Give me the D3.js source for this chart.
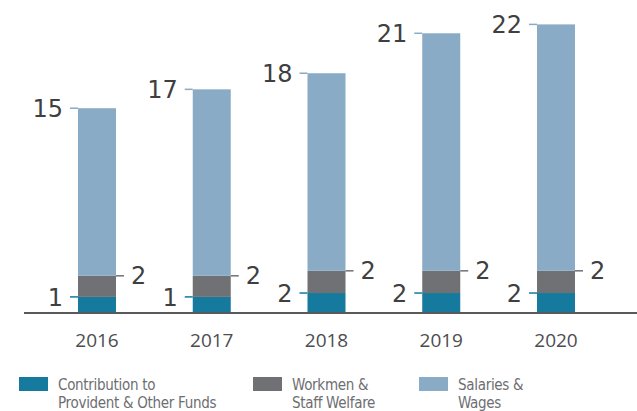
<!DOCTYPE html>
<html>
<head>
<meta charset="utf-8">
<script src="https://cdn.jsdelivr.net/npm/d3@7"></script>
<style>
  body { margin: 0; background: #fff; }
  svg { display: block; }
</style>
</head>
<body>
<svg id="chart"></svg>
<script>
// data (Rs. crore)
var years = ["2016", "2017", "2018", "2019", "2020"];
var contribution = [1.45, 1.45, 1.8, 1.8, 1.8];
var welfare = [1.9, 1.9, 2.0, 2.0, 2.0];
var salaries = [15.1, 16.8, 17.8, 21.4, 22.2];
var seriesNames = ["Contribution to|Provident & Other Funds", "Workmen &|Staff Welfare", "Salaries &|Wages"];
var seriesColors = ["#157a9e", "#707175", "#8aabc5"];

function drawChart(width, height) {
  var svg = d3.select("#chart")
    .attr("width", width)
    .attr("height", height);

  var baseline = 313;
  var barWidth = 38;

  // stack the three series per year
  var rows = years.map((y, i) => ({
    year: y,
    contribution: contribution[i],
    welfare: welfare[i],
    salaries: salaries[i]
  }));
  var stack = d3.stack().keys(["contribution", "welfare", "salaries"]);
  var layers = stack(rows);

  var x = d3.scalePoint()
    .domain(years)
    .range([97, 556]);

  var y = d3.scaleLinear()
    .domain([0, 26])
    .range([baseline, baseline - 26 * 11.1]);

  // bars
  var groups = svg.selectAll(".layer")
    .data(layers)
    .enter()
    .append("g")
    .attr("class", "layer")
    .attr("fill", (d, i) => seriesColors[i]);

  groups.selectAll("rect")
    .data(d => d)
    .enter()
    .append("rect")
    .attr("x", d => x(d.data.year) - barWidth / 2)
    .attr("y", d => y(d[1]))
    .attr("width", barWidth)
    .attr("height", d => y(d[0]) - y(d[1]));

  // x axis line
  svg.append("line")
    .attr("x1", 24)
    .attr("x2", width)
    .attr("y1", baseline)
    .attr("y2", baseline)
    .attr("stroke", "#58595b")
    .attr("stroke-width", 2);

  // year labels
  svg.selectAll(".year")
    .data(years)
    .enter()
    .append("text")
    .attr("class", "year")
    .attr("x", d => x(d))
    .attr("y", 347)
    .attr("text-anchor", "middle")
    .style("font-family", "'Open Sans', sans-serif")
    .style("font-size", "19px")
    .style("fill", "#4d4d4f")
    .text(d => d);

  // value labels with short leader lines
  // contribution + salaries on the left side, welfare on the right
  var sides = [-1, 1, -1];
  layers.forEach((layer, i) => {
    var side = sides[i];
    var g = svg.append("g").attr("class", "labels-" + i);
    layer.forEach(d => {
      var cx = x(d.data.year);
      var edge = cx + side * barWidth / 2;
      var yy = y(d[1]);
      g.append("line")
        .attr("x1", edge)
        .attr("x2", edge + side * 8)
        .attr("y1", yy)
        .attr("y2", yy)
        .attr("stroke", seriesColors[i])
        .attr("stroke-width", 1.5);
      g.append("text")
        .attr("x", edge + side * 15)
        .attr("y", yy)
        .attr("dy", "0.36em")
        .attr("text-anchor", side < 0 ? "end" : "start")
        .style("font-family", "'DejaVu Sans', sans-serif")
        .style("font-size", "24px")
        .style("fill", "#3f3f41")
        .text(Math.round(d[1] - d[0]));
    });
  });

  // legend
  var legendX = [19, 253, 419];
  var legend = svg.selectAll(".legend")
    .data(seriesNames)
    .enter()
    .append("g")
    .attr("class", "legend")
    .attr("transform", (d, i) => `translate(${legendX[i]},377)`);

  legend.append("rect")
    .attr("width", 29)
    .attr("height", 14)
    .attr("fill", (d, i) => seriesColors[i]);

  legend.append("text")
    .attr("x", 39)
    .attr("y", 13)
    .style("font-family", "'Liberation Sans Narrow', 'DejaVu Sans Condensed', Roboto, sans-serif")
    .style("font-size", "15px")
    .style("letter-spacing", "-0.3px")
    .style("fill", "#6d6e71")
    .selectAll("tspan")
    .data(d => d.split("|"))
    .enter()
    .append("tspan")
    .attr("x", 39)
    .attr("dy", (d, i) => i === 0 ? 0 : 18)
    .text(d => d);
}

drawChart(637, 411);
</script>
</body>
</html>
